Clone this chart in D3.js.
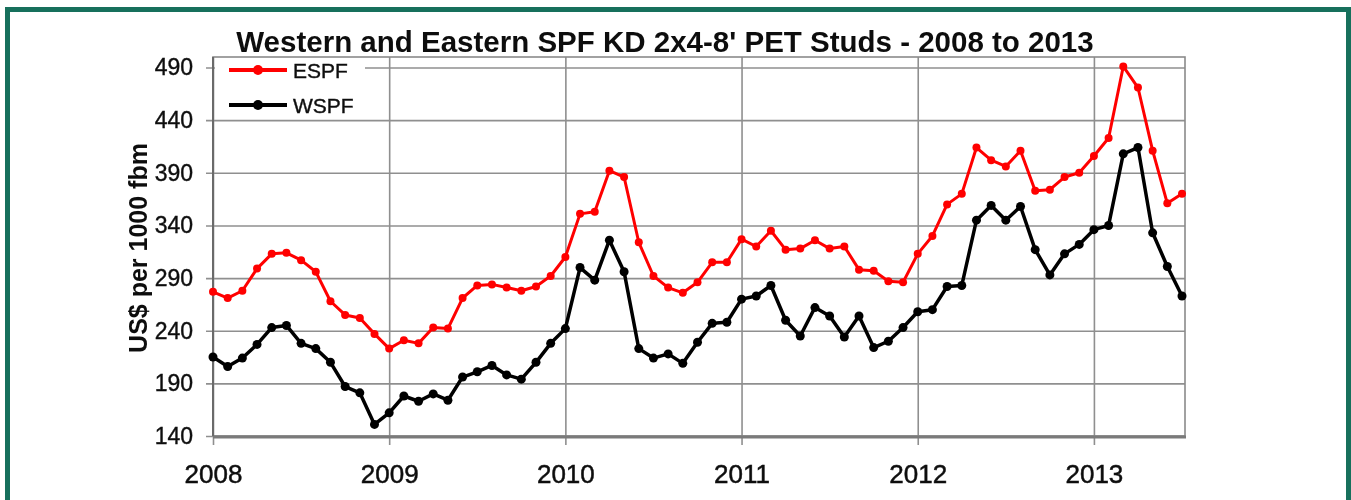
<!DOCTYPE html>
<html>
<head>
<meta charset="utf-8">
<script src="https://cdn.jsdelivr.net/npm/d3@7"></script>
<style>
  body { margin: 0; background: #fff; }
  svg { display: block; font-family: "Liberation Sans", Arial, sans-serif; }
</style>
</head>
<body>
<div id="chart"></div>
<script>
// monthly prices, Jan 2008 .. Jul 2013
var espf = [
  277, 271, 278, 299, 313, 314, 307, 296, 268, 255, 252, 237,
  223, 231, 228, 243, 242, 271, 283, 284, 281, 278, 282, 292,
  310, 351, 353, 392, 386, 324, 292, 281, 276, 286, 305, 305,
  327, 320, 335, 317, 318, 326, 318, 320, 298, 297, 287, 286,
  313, 330, 360, 370, 414, 402, 396, 411, 373, 374, 386, 390,
  406, 423, 491, 471, 411, 361, 370
];
var wspf = [
  215, 206, 214, 227, 243, 245, 228, 223, 210, 187, 181, 151,
  162, 178, 173, 180, 174, 196, 201, 207, 198, 194, 210, 228,
  242, 300, 288, 326, 296, 223, 214, 218, 209, 229, 247, 248,
  270, 273, 283, 250, 235, 262, 254, 234, 254, 224, 230, 243,
  258, 260, 282, 283, 345, 359, 345, 358, 317, 293, 313, 322,
  336, 340, 408, 414, 333, 301, 273
];
var years = [2008, 2009, 2010, 2011, 2012, 2013];
var yTicks = [140, 190, 240, 290, 340, 390, 440, 490];
var seriesNames = ["ESPF", "WSPF"];
var seriesColors = ["#ff0000", "#000000"];

var svgWidth = 1351;
var svgHeight = 500;

// plot box in page pixels
var plot = { left: 213, right: 1185, top: 57, bottom: 436 };

var svg = d3.select("#chart")
  .append("svg")
  .attr("width", svgWidth)
  .attr("height", svgHeight);

// slight softening, the source picture is a blurry jpeg
svg.append("defs").append("filter")
  .attr("id", "soft")
  .append("feGaussianBlur")
  .attr("stdDeviation", 0.45);

// green frame
svg.append("rect")
  .attr("x", 7.5).attr("y", 9.5)
  .attr("width", 1341).attr("height", 520)
  .attr("fill", "#fff")
  .attr("stroke", "#17705c")
  .attr("stroke-width", 5);

var chart = svg.append("g").attr("filter", "url(#soft)");

var x = d3.scaleLinear()
  .domain([2008, 2013.517])
  .range([plot.left, plot.right]);

var y = d3.scaleLinear()
  .domain([140, 500])
  .range([plot.bottom, plot.top]);

// horizontal grid + y labels
var yAxis = chart.append("g")
  .attr("transform", `translate(206, 0)`)
  .call(d3.axisLeft(y)
    .tickValues(yTicks)
    .tickSize(-(plot.right - 206))
    .tickPadding(13)
    .tickFormat(d3.format("d")));
yAxis.select(".domain").remove();
yAxis.selectAll("line").attr("stroke", "#8f8f8f").attr("stroke-width", 1.6);
yAxis.selectAll("text")
  .attr("font-size", 23).attr("fill", "#111")
  .attr("stroke", "#111").attr("stroke-width", 0.4);

// vertical grid + x labels
var xAxis = chart.append("g")
  .attr("transform", `translate(0, 445)`)
  .call(d3.axisBottom(x)
    .tickValues(years)
    .tickSize(-(445 - plot.top))
    .tickPadding(20)
    .tickFormat(d3.format("d")));
xAxis.select(".domain").remove();
xAxis.selectAll("line").attr("stroke", "#8f8f8f").attr("stroke-width", 1.6);
xAxis.selectAll("text")
  .attr("font-size", 26).attr("fill", "#111")
  .attr("stroke", "#111").attr("stroke-width", 0.5);

// plot border
chart.append("rect")
  .attr("x", plot.left).attr("y", plot.top)
  .attr("width", plot.right - plot.left)
  .attr("height", plot.bottom - plot.top)
  .attr("fill", "none")
  .attr("stroke", "#8a8a8a")
  .attr("stroke-width", 1.6);
chart.append("line")
  .attr("x1", plot.left).attr("x2", plot.right + 1)
  .attr("y1", plot.bottom + 1).attr("y2", plot.bottom + 1)
  .attr("stroke", "#7a7a7a").attr("stroke-width", 3);
chart.append("line")
  .attr("x1", plot.left).attr("x2", plot.left)
  .attr("y1", plot.top).attr("y2", plot.bottom)
  .attr("stroke", "#6a6a6a").attr("stroke-width", 2);

// legend background hides the top gridline
chart.append("rect")
  .attr("x", plot.left + 2).attr("y", plot.top + 2)
  .attr("width", 150).attr("height", 56)
  .attr("fill", "#fff");

// series
var line = d3.line()
  .x((d, i) => x(2008 + i / 12))
  .y(d => y(d));

[espf, wspf].forEach(function(values, k) {
  var g = chart.append("g");
  g.append("path")
    .datum(values)
    .attr("fill", "none")
    .attr("stroke", seriesColors[k])
    .attr("stroke-width", k === 0 ? 3 : 3.5)
    .attr("stroke-linejoin", "round")
    .attr("d", line);
  g.selectAll("circle")
    .data(values)
    .enter()
    .append("circle")
    .attr("cx", (d, i) => x(2008 + i / 12))
    .attr("cy", d => y(d))
    .attr("r", k === 0 ? 4 : 4.5)
    .attr("fill", seriesColors[k]);
});

// legend
var legend = chart.append("g");
seriesNames.forEach(function(name, k) {
  var ly = 70 + k * 35;
  legend.append("line")
    .attr("x1", 229).attr("x2", 287)
    .attr("y1", ly).attr("y2", ly)
    .attr("stroke", seriesColors[k])
    .attr("stroke-width", 4);
  legend.append("circle")
    .attr("cx", 258).attr("cy", ly)
    .attr("r", 5)
    .attr("fill", seriesColors[k]);
  legend.append("text")
    .attr("x", 293).attr("y", ly + 8)
    .attr("font-size", 21)
    .attr("fill", "#111")
    .attr("stroke", "#111").attr("stroke-width", 0.4)
    .text(name);
});

// title
chart.append("text")
  .attr("x", 665).attr("y", 52)
  .attr("text-anchor", "middle")
  .attr("font-size", 29.5)
  .attr("font-weight", "bold")
  .attr("fill", "#111")
  .text("Western and Eastern SPF KD 2x4-8' PET Studs - 2008 to 2013");

// y axis title
chart.append("text")
  .attr("transform", "translate(147, 248) rotate(-90)")
  .attr("text-anchor", "middle")
  .attr("font-size", 25)
  .attr("font-weight", "bold")
  .attr("fill", "#111")
  .text("US$ per 1000 fbm");
</script>
</body>
</html>
